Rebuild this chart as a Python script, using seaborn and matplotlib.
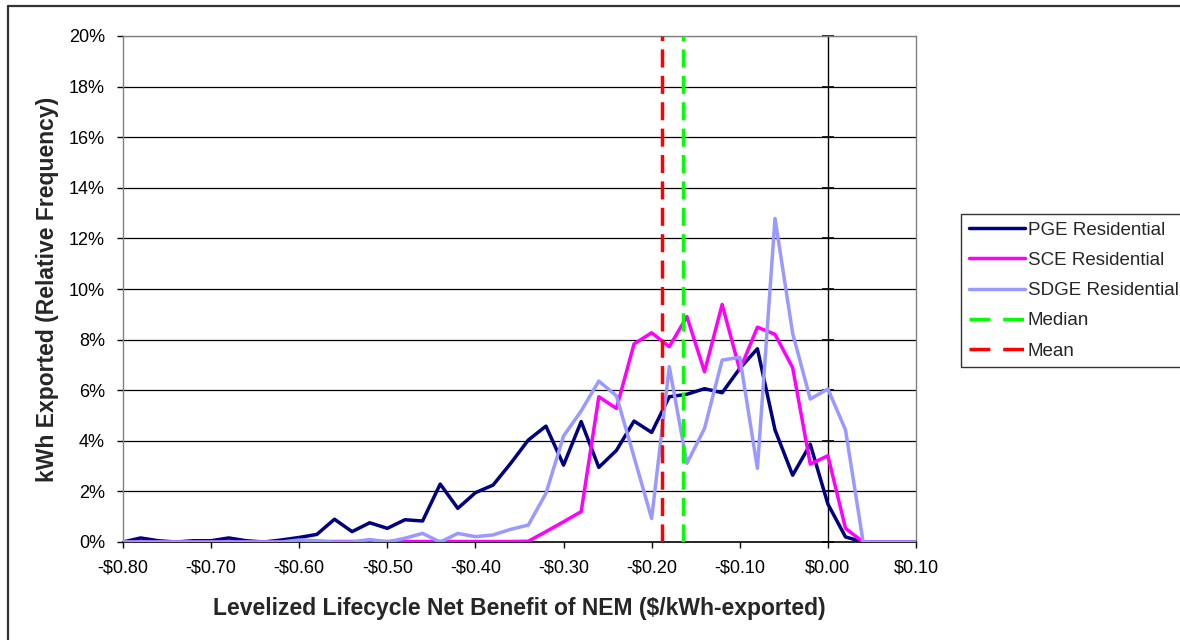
import numpy as np
import pandas as pd
import matplotlib
matplotlib.use("Agg")
import matplotlib.pyplot as plt
from matplotlib.lines import Line2D
from matplotlib.ticker import FuncFormatter
import seaborn as sns

# ---- data (percent of kWh exported) ----
benefit = [round(-0.80 + 0.02 * i, 2) for i in range(46)]

pge = [0.00, 0.16, 0.05, 0.00, 0.05, 0.05, 0.16, 0.05, 0.00, 0.08,
       0.18, 0.30, 0.90, 0.41, 0.76, 0.54, 0.88, 0.83, 2.29, 1.33,
       1.95, 2.25, 3.11, 4.03, 4.58, 3.04, 4.76, 2.95, 3.62, 4.78,
       4.33, 5.74, 5.84, 6.06, 5.90, 6.86, 7.64, 4.43, 2.64, 3.86,
       1.50, 0.20, 0.00, 0.00, 0.00, 0.00]

sce = [0.00, 0.00, 0.00, 0.00, 0.00, 0.00, 0.00, 0.00, 0.00, 0.00,
       0.02, 0.02, 0.02, 0.02, 0.02, 0.02, 0.02, 0.02, 0.02, 0.02,
       0.02, 0.02, 0.02, 0.03, 0.41, 0.80, 1.20, 5.74, 5.28, 7.83,
       8.27, 7.72, 8.91, 6.73, 9.39, 6.80, 8.49, 8.21, 6.89, 3.08,
       3.41, 0.54, 0.00, 0.00, 0.00, 0.00]

sdge = [0.00, 0.00, 0.00, 0.00, 0.00, 0.00, 0.00, 0.00, 0.00, 0.00,
        0.08, 0.05, 0.00, 0.00, 0.10, 0.00, 0.15, 0.34, 0.00, 0.34,
        0.21, 0.28, 0.50, 0.67, 1.92, 4.19, 5.18, 6.36, 5.78, 3.36,
        0.93, 6.93, 3.11, 4.49, 7.19, 7.30, 2.91, 12.79, 8.25, 5.65,
        6.05, 4.43, 0.00, 0.00, 0.00, 0.00]

series_names = ["PGE Residential", "SCE Residential", "SDGE Residential"]
series_colors = ["#000080", "#FF00FF", "#9999FF"]
median_value = -0.165
mean_value = -0.188

x_ticks = [-0.80, -0.70, -0.60, -0.50, -0.40, -0.30, -0.20, -0.10, 0.00, 0.10]
y_ticks = [0, 2, 4, 6, 8, 10, 12, 14, 16, 18, 20]

# ---- style ----
sns.set_theme(style="white")
plt.rcParams["font.family"] = ["Liberation Sans", "DejaVu Sans"]

LW = 2.5

fig = plt.figure(figsize=(11.8, 6.4), dpi=100)
ax = fig.add_axes([123 / 1180, 1 - 542 / 640, (916 - 123) / 1180, (542 - 36) / 640])

df = pd.DataFrame({"benefit": benefit, "PGE Residential": pge,
                   "SCE Residential": sce, "SDGE Residential": sdge})

# horizontal gridlines
for yv in y_ticks[1:]:
    ax.axhline(yv, color="#000000" if yv < 20 else "#808080", lw=0.9, zorder=1)

# vertical zero line with small tick marks
ax.axvline(0.0, color="#000000", lw=1.0, zorder=1)
ax.plot([0.0] * len(y_ticks), y_ticks, linestyle="none", marker="_",
        markersize=9, markeredgewidth=1.2, color="#000000", zorder=1,
        clip_on=False)

handles = []
for name, col in zip(series_names, series_colors):
    sns.lineplot(data=df, x="benefit", y=name, ax=ax, color=col, lw=LW,
                 zorder=3, legend=False)
    handles.append(Line2D([], [], color=col, lw=LW, label=name))

ax.axvline(median_value, color="#00FF00", lw=LW, linestyle=(0, (5.2, 2.4)), zorder=4)
ax.axvline(mean_value, color="#FF0000", lw=LW, linestyle=(0, (5.2, 2.4)), zorder=4)
handles.append(Line2D([], [], color="#00FF00", lw=LW, linestyle=(0, (6.0, 3.7)), label="Median"))
handles.append(Line2D([], [], color="#FF0000", lw=LW, linestyle=(0, (6.0, 3.7)), label="Mean"))

ax.set_xlim(-0.80, 0.10)
ax.set_ylim(0, 20)
ax.set_xticks(x_ticks)
ax.set_yticks(y_ticks)
ax.xaxis.set_major_formatter(FuncFormatter(lambda v, p: ("-$%.2f" % abs(v)) if v < -1e-9 else "$%.2f" % abs(v)))
ax.yaxis.set_major_formatter(FuncFormatter(lambda v, p: "%d%%" % round(v)))
ax.tick_params(axis="both", which="major", direction="out", length=4.5, width=1,
               color="#000000", labelsize=13, labelcolor="#000000",
               bottom=True, left=True)
ax.tick_params(axis="x", pad=8)
ax.tick_params(axis="y", pad=8.5)

for side in ["top", "right", "left"]:
    ax.spines[side].set_color("#808080")
    ax.spines[side].set_linewidth(1.0)
ax.spines["bottom"].set_color("#000000")
ax.spines["bottom"].set_linewidth(1.2)
ax.set_facecolor("white")

ax.set_xlabel("Levelized Lifecycle Net Benefit of NEM ($/kWh-exported)",
              fontsize=16.5, fontweight="bold", labelpad=15)
ax.set_ylabel("kWh Exported (Relative Frequency)",
              fontsize=16.5, fontweight="bold", labelpad=7)

leg = ax.legend(handles=handles, loc="upper left",
                bbox_to_anchor=(961 / 1180, 1 - 214 / 640),
                bbox_transform=fig.transFigure, frameon=True, fancybox=False,
                fontsize=13.5, handlelength=3.0, handletextpad=0.15,
                labelspacing=0.70, borderpad=0.40, borderaxespad=0)
leg.get_frame().set_edgecolor("#000000")
leg.get_frame().set_linewidth(1.0)

# outer chart border (left and top edges visible)
fig.add_artist(Line2D([8 / 1180, 8 / 1180], [0, 1 - 6 / 640], transform=fig.transFigure,
                      color="#333333", lw=1.6))
fig.add_artist(Line2D([8 / 1180, 1], [1 - 6 / 640, 1 - 6 / 640], transform=fig.transFigure,
                      color="#333333", lw=1.6))

fig.savefig("out.png", dpi=100, facecolor="white")
